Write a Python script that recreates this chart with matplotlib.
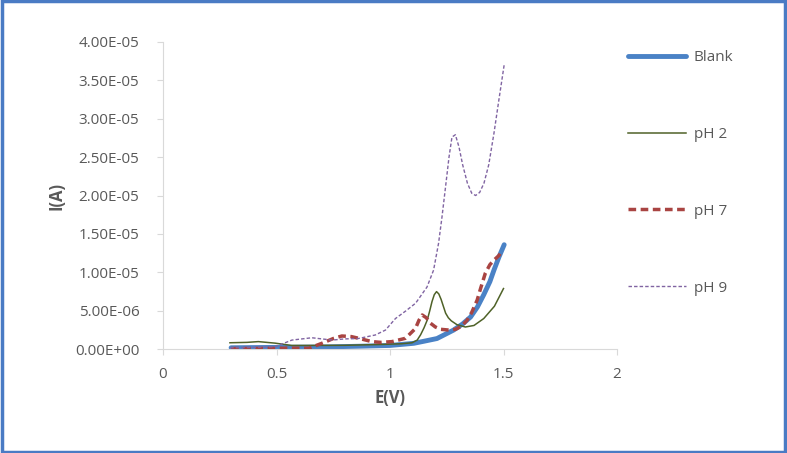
import matplotlib
matplotlib.use("Agg")
import matplotlib.pyplot as plt
from matplotlib.patches import Rectangle
import numpy as np

# ---------------- data (current in units of 1e-6 A) ----------------
blank_E = [0.30, 0.50, 0.70, 0.87, 1.00, 1.105, 1.15, 1.207, 1.28, 1.32, 1.355, 1.385, 1.413, 1.44, 1.458, 1.48, 1.503]
blank_I = [0.20, 0.25, 0.30, 0.40, 0.50, 0.78, 1.05, 1.40, 2.50, 3.30, 4.20, 5.50, 7.10, 8.80, 10.3, 12.0, 13.6]

ph2_E = [0.295, 0.37, 0.42, 0.494, 0.567, 0.65, 0.80, 0.862, 0.95, 1.05, 1.097, 1.12, 1.135, 1.15, 1.164,
         1.175, 1.185, 1.195, 1.205, 1.215, 1.225, 1.235, 1.245, 1.257, 1.27, 1.295, 1.332, 1.37, 1.413,
         1.46, 1.50]
ph2_I = [0.85, 0.90, 1.00, 0.80, 0.50, 0.50, 0.52, 0.56, 0.62, 0.72, 0.85, 1.20, 1.90, 2.80, 3.80,
         5.00, 6.20, 7.10, 7.50, 7.20, 6.50, 5.60, 4.70, 4.10, 3.70, 3.20, 2.90, 3.10, 4.00,
         5.60, 7.90]

ph7_E = [0.30, 0.45, 0.55, 0.642, 0.70, 0.75, 0.788, 0.83, 0.862, 0.92, 0.96, 1.009, 1.068, 1.112, 1.128,
         1.142, 1.16, 1.178, 1.20, 1.223, 1.26, 1.289, 1.315, 1.34, 1.36, 1.384, 1.40, 1.42, 1.44, 1.458,
         1.48, 1.495]
ph7_I = [0.10, 0.12, 0.15, 0.13, 0.78, 1.40, 1.73, 1.65, 1.43, 1.00, 0.90, 1.00, 1.43, 2.70, 3.80,
         4.46, 4.10, 3.40, 2.90, 2.60, 2.50, 2.60, 3.00, 3.80, 4.80, 6.40, 8.00, 9.90, 11.0, 11.6,
         12.2, 12.9]

ph9_E = [0.296, 0.40, 0.494, 0.568, 0.656, 0.745, 0.80, 0.86, 0.935, 0.98, 1.024, 1.07, 1.113, 1.163,
         1.192, 1.214, 1.229, 1.243, 1.26, 1.273, 1.288, 1.304, 1.32, 1.341, 1.36, 1.377, 1.395, 1.414,
         1.435, 1.458, 1.48, 1.503]
ph9_I = [0.20, 0.25, 0.34, 1.20, 1.50, 1.20, 1.35, 1.40, 1.86, 2.50, 4.00, 5.00, 6.00, 8.10,
         10.3, 13.8, 17.2, 20.7, 25.0, 27.6, 27.9, 26.3, 24.0, 21.6, 20.3, 20.0, 20.4, 21.6,
         24.0, 28.1, 32.5, 37.0]

y_ticks = [0, 5e-6, 1e-5, 1.5e-5, 2e-5, 2.5e-5, 3e-5, 3.5e-5, 4e-5]
y_tick_labels = ["0.00E+00", "5.00E-06", "1.00E-05", "1.50E-05", "2.00E-05",
                 "2.50E-05", "3.00E-05", "3.50E-05", "4.00E-05"]
x_ticks = [0, 0.5, 1, 1.5, 2]
x_tick_labels = ["0", "0.5", "1", "1.5", "2"]

# ---------------- figure ----------------
plt.rcParams['font.family'] = ['Open Sans', 'DejaVu Sans']
W, H = 787, 453
fig = plt.figure(figsize=(W / 100, H / 100), dpi=100)
ax = fig.add_axes([163 / W, 1 - 349.3 / H, (617 - 163) / W, (349.3 - 41.7) / H])

scale = 1e-6
ax.plot(blank_E, np.array(blank_I) * scale, color='#4a82c6', lw=3.5,
        solid_capstyle='round', solid_joinstyle='round', label='Blank', zorder=2)
ax.plot(ph2_E, np.array(ph2_I) * scale, color='#4f6228', lw=1.1, label='pH 2', zorder=3)
ax.plot(ph7_E, np.array(ph7_I) * scale, color='#a94442', lw=2.5, dashes=(2.2, 1.3),
        label='pH 7', zorder=4)
ax.plot(ph9_E, np.array(ph9_I) * scale, color='#8064a2', lw=1.0, dashes=(2.5, 1.5),
        label='pH 9', zorder=5)

ax.set_xlim(0, 2)
ax.set_ylim(0, 4e-5)
ax.set_xticks(x_ticks)
ax.set_xticklabels(x_tick_labels)
ax.set_yticks(y_ticks)
ax.set_yticklabels(y_tick_labels)

for s in ['top', 'right']:
    ax.spines[s].set_visible(False)
for s in ['left', 'bottom']:
    ax.spines[s].set_color('#d9d9d9')
    ax.spines[s].set_linewidth(0.8)
ax.tick_params(axis='both', direction='out', length=4, width=0.8, color='#d9d9d9',
               labelcolor='#595959', labelsize=11)
ax.tick_params(axis='y', pad=13)
ax.tick_params(axis='x', pad=9)

ax.set_xlabel('E(V)', fontsize=12, fontweight='bold', color='#595959', labelpad=5)
ax.set_ylabel('I(A)', fontsize=12, fontweight='bold', color='#595959', labelpad=7)

leg = fig.legend(loc='upper left', bbox_to_anchor=(628 / W, 1 - 50 / H), frameon=False,
                 fontsize=11, labelcolor='#595959', handlelength=3.8, handletextpad=0.5,
                 labelspacing=4.05, borderpad=0, borderaxespad=0)

# blue border around figure
fig.patches.append(Rectangle((0.002, 0.003), 0.996, 0.994, transform=fig.transFigure,
                             fill=False, edgecolor='#4a7bc4', lw=2.5, zorder=10))

fig.savefig('out.png', dpi=100, facecolor='white')
